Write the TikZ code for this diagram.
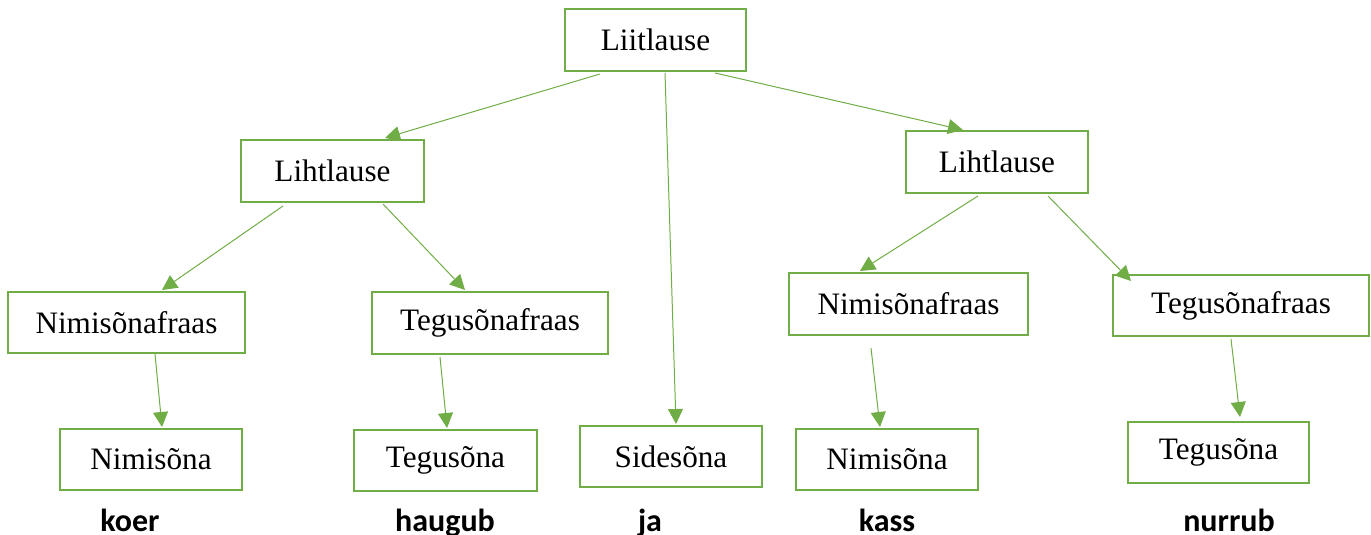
\documentclass[tikz,border=0pt]{standalone}
\usepackage{fontspec}
\setmainfont{Liberation Serif}
\setsansfont{Carlito}
\usetikzlibrary{arrows.meta}
\usetikzlibrary{calc}
\definecolor{mygreen}{RGB}{112,173,71}
\tikzset{>={Triangle[length=7.5pt,width=7.5pt]}}
\tikzset{
  box/.style={draw=mygreen,line width=1pt,fill=white,inner sep=0pt,
              font=\fontsize{15.6}{18}\selectfont},
  arr/.style={->,draw=mygreen,line width=0.5pt},
  word/.style={font=\sffamily\bfseries\fontsize{16}{19}\selectfont,inner sep=0pt,anchor=base}
}
\newcommand\bx[5]{% name, x, y, width, height
  \node[box,minimum width=#4*0.5pt,minimum height=#5*0.5pt] (#1) at (#2,#3)}
\begin{document}
\begin{tikzpicture}[x=0.5pt,y=-0.5pt]
  \useasboundingbox (0,0) rectangle (1371,535);

  % BOXES
  \bx{root}{655.5}{40}{181}{62} {Liitlause};
  \bx{lihtL}{332.5}{171}{183}{62} {Lihtlause};
  \bx{lihtR}{997}{162}{182}{62} {Lihtlause};
  \bx{nfL}{126.5}{322.5}{237}{61} {Nimisõnafraas};
  \bx{tfL}{490}{323}{236}{62} {Tegusõnafraas};
  \bx{nfR}{908.5}{304}{239}{62} {Nimisõnafraas};
  \bx{tfR}{1241}{305.5}{256}{61} {Tegusõnafraas};
  \bx{nsL}{151}{459.5}{182}{61} {Nimisõna};
  \bx{tsL}{445.5}{460.5}{183}{61} {Tegusõna};
  \bx{sides}{671}{456.5}{182}{61} {Sidesõna};
  \bx{nsR}{887}{459.5}{182}{61} {Nimisõna};
  \bx{tsR}{1218.5}{452.5}{181}{61} {Tegusõna};

  % WORDS
  \node[word] (koer) at (130,531) {koer};
  \node[word] (haugub) at (445,531) {haugub};
  \node[word] (ja) at (650,531) {ja};
  \node[word] (kass) at (887,531) {kass};
  \node[word] (nurrub) at (1229,531) {nurrub};

  % ARROWS
  \draw[arr] ($(root.south)+(-55.5,2)$) -- ($(lihtL.north)+(52.5,-1)$);
  \draw[arr] ($(root.south)+(9.5,1)$) -- ($(sides.north)+(5,-1)$);
  \draw[arr] ($(root.south)+(59.5,1)$) -- ($(lihtR.north)+(-34,0)$);
  \draw[arr] ($(lihtL.south)+(-49.5,3)$) -- ($(nfL.north)+(35.5,-1)$);
  \draw[arr] ($(lihtL.south)+(50.5,1)$) -- ($(tfL.north)+(-25,-1)$);
  \draw[arr] ($(lihtR.south)+(-19,2)$) -- ($(nfR.north)+(-48.5,-1)$);
  \draw[arr] ($(lihtR.south)+(51,2)$) -- ($(tfR.north)+(-110,7)$);
  \draw[arr] ($(nfL.south)+(28.5,0)$) -- ($(nsL.north)+(11,-1)$);
  \draw[arr] ($(tfL.south)+(-50,2)$) -- ($(tsL.north)+(1.5,-1)$);
  \draw[arr] ($(nfR.south)+(-37.5,12)$) -- ($(nsR.north)+(-7,-1)$);
  \draw[arr] ($(tfR.south)+(-10,2)$) -- ($(tsR.north)+(21.5,-4)$);
\end{tikzpicture}
\end{document}
